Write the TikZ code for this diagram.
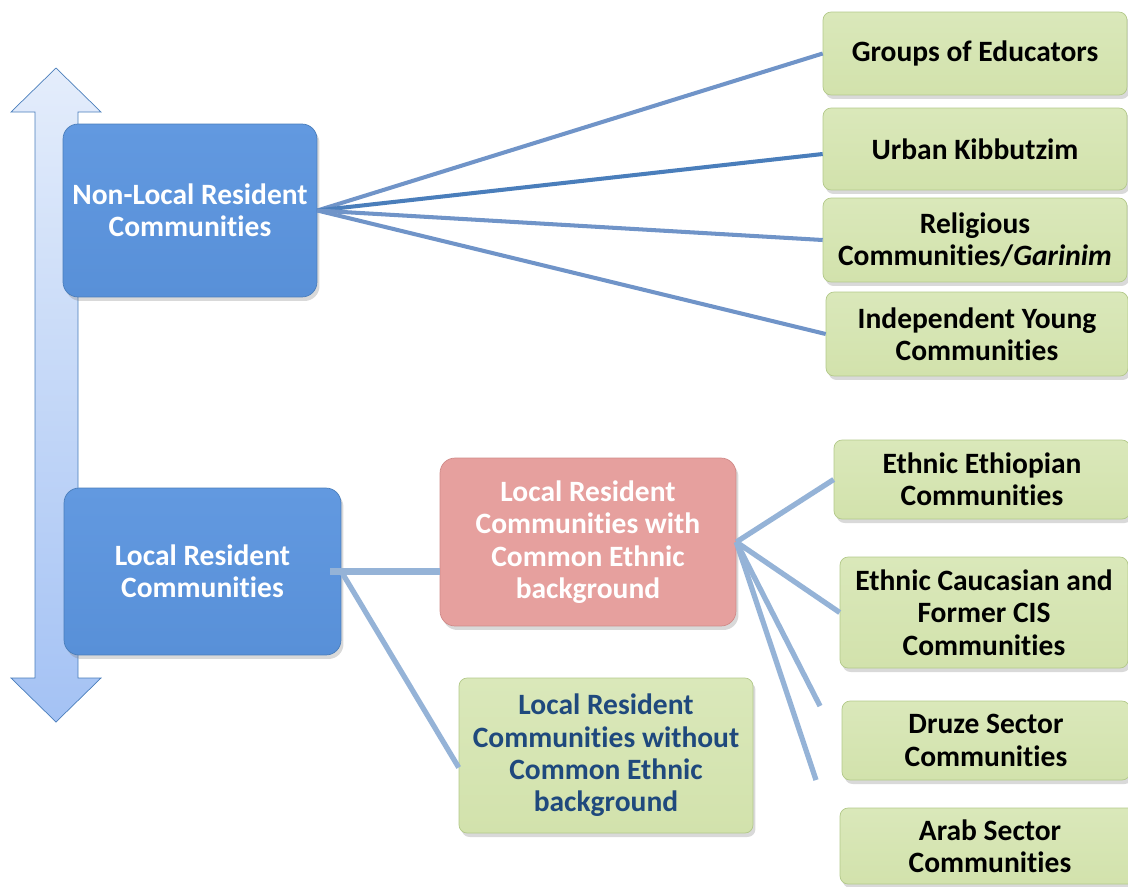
\documentclass[tikz,border=0pt]{standalone}
\usepackage{fontspec}
\setmainfont{Carlito}[Ligatures={NoCommon,NoContextual}, RawFeature={-liga;-clig;-calt;-dlig;-rlig}]
\usetikzlibrary{shadows}

\definecolor{blueFill}{HTML}{5890D8}
\definecolor{blueTop}{HTML}{6299E0}
\definecolor{blueEdge}{HTML}{4A7EBB}
\definecolor{pinkFill}{HTML}{E6A09E}
\definecolor{pinkEdge}{HTML}{D08A88}
\definecolor{greenFill}{HTML}{D2E2AC}
\definecolor{greenTop}{HTML}{DAE8BA}
\definecolor{greenEdge}{HTML}{B3C98A}
\definecolor{navyText}{HTML}{1F497D}
\definecolor{fanDark}{HTML}{4A7EBB}
\definecolor{fanMid}{HTML}{7094C8}
\definecolor{fanLight}{HTML}{95B3D7}
\definecolor{arrowTop}{HTML}{E4EDFB}
\definecolor{arrowBottom}{HTML}{A4C2F4}

\begin{document}
\begin{tikzpicture}[
  x=0.02cm, y=-0.02cm,
  every node/.style={font=\fontsize{16.8}{18.4}\selectfont\bfseries, align=center, inner sep=2pt},
  boxshadow/.style={drop shadow={opacity=0.3, shadow xshift=0.05cm, shadow yshift=-0.08cm}},
  bluebox/.style={rectangle, rounded corners=0.3cm, draw=blueEdge, top color=blueTop, bottom color=blueFill, text=white, boxshadow},
  pinkbox/.style={rectangle, rounded corners=0.3cm, draw=pinkEdge, fill=pinkFill, text=white, boxshadow},
  greenbox/.style={rectangle, rounded corners=0.16cm, draw=greenEdge, top color=greenTop, bottom color=greenFill, text=black, boxshadow},
  fan/.style={line width=2.3pt, fanMid},
  link/.style={line width=3pt, fanLight}
]
\useasboundingbox (0,0) rectangle (1128,886);

% Double arrow on the left
\draw[draw=blueEdge, top color=arrowTop, bottom color=arrowBottom]
  (56,68) -- (101,112) -- (78,112) -- (78,678) -- (101,678) -- (56,722)
  -- (11,678) -- (35,678) -- (35,112) -- (11,112) -- cycle;

% Main boxes
\node[bluebox, minimum width=5.08cm, minimum height=3.46cm] (nl) at (190,210.5) {Non-Local Resident\\Communities};
\node[bluebox, minimum width=5.54cm, minimum height=3.34cm] (lr) at (202.5,571.5) {Local Resident\\Communities};
\node[pinkbox, minimum width=5.92cm, minimum height=3.36cm] (pk) at (588,542) {Local Resident\\Communities with\\Common Ethnic\\background};
\node[greenbox, text=navyText, minimum width=5.88cm, minimum height=3.1cm] (wo) at (606,755.5) {Local Resident\\Communities without\\Common Ethnic\\background};

% Non-local groups
\node[greenbox, minimum width=6.08cm, minimum height=1.66cm] (ge) at (975,53.5) {Groups of Educators};
\node[greenbox, minimum width=6.08cm, minimum height=1.64cm] (uk) at (975,149) {Urban Kibbutzim};
\node[greenbox, minimum width=6.08cm, minimum height=1.68cm] (rc) at (975,240) {Religious\\Communities/\textit{Garinim}};
\node[greenbox, minimum width=6.04cm, minimum height=1.68cm] (iy) at (977,334) {Independent Young\\Communities};

% Ethnic groups
\node[greenbox, minimum width=5.92cm, minimum height=1.58cm] (et) at (982,479.5) {Ethnic Ethiopian\\Communities};
\node[greenbox, minimum width=5.76cm, minimum height=2.22cm] (ca) at (984,612.5) {Ethnic Caucasian and\\Former CIS\\Communities};
\node[greenbox, minimum width=5.76cm, minimum height=1.58cm] (dr) at (986,740.5) {Druze Sector\\Communities};
\node[greenbox, minimum width=6.0cm, minimum height=1.52cm] (ar) at (990,846) {Arab Sector\\Communities};

% Free ends
\coordinate (drEnd) at (820,706);
\coordinate (arEnd) at (816,780);

% Edges
\draw[fan] (nl.east) -- (ge.west);
\draw[fan, fanDark] (nl.east) -- ([yshift=-0.1cm]uk.west);
\draw[fan] (nl.east) -- (rc.west);
\draw[fan] (nl.east) -- (iy.west);
\draw[link, line width=4.5pt] ([xshift=-0.22cm]lr.east) -- (lr.east -| pk.west);
\draw[link] (lr.east) -- ([yshift=-0.24cm]wo.west);
\draw[link] (pk.east) -- (et.west);
\draw[link] (pk.east) -- (ca.west);
\draw[link] (pk.east) -- (drEnd);
\draw[link] (pk.east) -- (arEnd);

\end{tikzpicture}
\end{document}
